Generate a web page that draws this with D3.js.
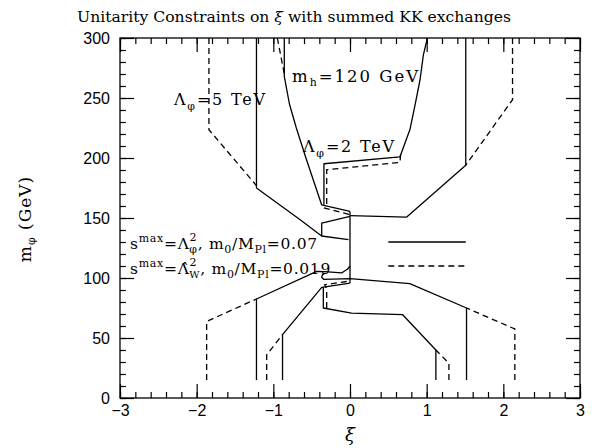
<!DOCTYPE html>
<html>
<head>
<meta charset="utf-8">
<script src="https://cdn.jsdelivr.net/npm/d3@7"></script>
<style>
body { margin: 0; background: #fff; }
svg { display: block; }
.tick text { font-family: "Liberation Sans", Arial, sans-serif; font-size: 16px; fill: #000; }
.lbl { font-family: "DejaVu Serif", serif; fill: #000; }
</style>
</head>
<body>
<div id="chart"></div>
<script>
// curves as [xi, m_phi] points
// solid: s^max = Lambda_phi^2, m0/MPl = 0.07 ; dashed: s^max = hatLambda_W^2, m0/MPl = 0.019
var lam5UpperLeft = [[-1.22, 300], [-1.22, 175], [-0.65, 148.6], [-0.37, 135], [-0.02, 132]];
var lam5UpperRight = [[1.51, 300], [1.51, 194], [0.74, 150.8], [0, 152]];
var lam5LowerLeft = [[-1.22, 15], [-1.22, 82.5], [-0.435, 105.5], [-0.33, 105.3], [-0.11, 104.2], [-0.03, 107.5], [0, 110]];
var lam5LowerRight = [[1.52, 15], [1.52, 75], [0.78, 95.3], [0, 99.4], [-0.34, 98.8], [-0.37, 100.6], [-0.36, 102.6], [-0.33, 104]];
var lam2UpperLeft = [[-0.857, 300], [-0.857, 268], [-0.79, 245], [-0.7, 225], [-0.58, 201], [-0.47, 180], [-0.37, 161], [0, 155.5]];
var lam2UpperRight = [[1.01, 300], [0.957, 286], [0.913, 265], [0.848, 244], [0.783, 224], [0.652, 201], [-0.34, 195.2], [-0.34, 161]];
var lam2LowerLeft = [[-0.88, 15], [-0.88, 52.8], [-0.369, 92.2], [0, 95.8]];
var lam2LowerRight = [[1.12, 15], [1.12, 40], [0.687, 69.4], [0.02, 70.8], [-0.348, 75], [-0.348, 92.5]];
var centreKink = [[-0.369, 134.7], [-0.369, 145.8], [0, 151.3]];
var centreLine = [[0, 155.5], [0, 95.8]];

var lam5UpperLeftDash = [[-1.84, 300], [-1.84, 223.6], [-1.22, 177]];
var lam5UpperRightDash = [[2.12, 300], [2.12, 248.6], [1.51, 194]];
var lam5LowerLeftDash = [[-1.87, 15], [-1.87, 63.8], [-1.22, 82.5]];
var lam5LowerRightDash = [[2.15, 15], [2.15, 57.5], [1.52, 75]];
var lam2UpperLeftDash = [[-0.948, 300], [-0.857, 270]];
var lam2UpperRightDash = [[0.66, 203], [0.652, 196.3], [-0.304, 190.25], [-0.304, 160], [-0.33, 158.3], [0, 152.75]];
var lam2LowerLeftDash = [[-1.087, 15], [-1.087, 36], [-0.88, 52.8]];
var lam2LowerRightDash = [[1.29, 15], [1.29, 29], [1.12, 40]];
var lam2LowerCentreDash = [[-0.304, 75], [-0.304, 91], [-0.33, 94.4], [0, 97.5]];

var solidCurves = [lam5UpperLeft, lam5UpperRight, lam5LowerLeft, lam5LowerRight,
    lam2UpperLeft, lam2UpperRight, lam2LowerLeft, lam2LowerRight, centreKink, centreLine];
var dashedCurves = [lam5UpperLeftDash, lam5UpperRightDash, lam5LowerLeftDash, lam5LowerRightDash,
    lam2UpperLeftDash, lam2UpperRightDash, lam2LowerLeftDash, lam2LowerRightDash, lam2LowerCentreDash];

var xTicks = [-3, -2, -1, 0, 1, 2, 3];
var yTicks = [0, 50, 100, 150, 200, 250, 300];

var width = 612, height = 448;
var x = d3.scaleLinear().domain([-3, 3]).range([120, 580]);
var y = d3.scaleLinear().domain([0, 300]).range([398, 38]);

var svg = d3.select("#chart").append("svg")
    .attr("width", width)
    .attr("height", height);

// minor ticks every 0.2 / 10, major at labels
var xMinor = d3.range(-3, 3.001, 0.2).map(function (d) { return +d.toFixed(1); });
var yMinor = d3.range(0, 301, 10);
var fmt = d3.format("d");

function addAxis(axis, tx, ty) {
    var g = svg.append("g").attr("transform", "translate(" + tx + "," + ty + ")").call(axis);
    g.select(".domain").remove();
    g.selectAll(".tick line").attr("stroke", "#000").attr("stroke-width", 1.2);
    return g;
}

addAxis(d3.axisBottom(x).tickValues(xTicks).tickSizeInner(-14).tickSizeOuter(0).tickPadding(7).tickFormat(fmt), 0, y(0));
addAxis(d3.axisBottom(x).tickValues(xMinor).tickSizeInner(-6).tickSizeOuter(0).tickFormat(""), 0, y(0));
addAxis(d3.axisTop(x).tickValues(xTicks).tickSizeInner(-14).tickSizeOuter(0).tickFormat(""), 0, y(300));
addAxis(d3.axisTop(x).tickValues(xMinor).tickSizeInner(-6).tickSizeOuter(0).tickFormat(""), 0, y(300));
addAxis(d3.axisLeft(y).tickValues(yTicks).tickSizeInner(-14).tickSizeOuter(0).tickPadding(10).tickFormat(fmt), x(-3), 0);
addAxis(d3.axisLeft(y).tickValues(yMinor).tickSizeInner(-6).tickSizeOuter(0).tickFormat(""), x(-3), 0);
addAxis(d3.axisRight(y).tickValues(yTicks).tickSizeInner(-14).tickSizeOuter(0).tickFormat(""), x(3), 0);
addAxis(d3.axisRight(y).tickValues(yMinor).tickSizeInner(-6).tickSizeOuter(0).tickFormat(""), x(3), 0);

svg.append("rect")
    .attr("x", x(-3)).attr("y", y(300))
    .attr("width", x(3) - x(-3)).attr("height", y(0) - y(300))
    .attr("fill", "none").attr("stroke", "#000").attr("stroke-width", 1.3);

var line = d3.line()
    .x(function (d) { return x(d[0]); })
    .y(function (d) { return y(d[1]); });

svg.selectAll(".solid").data(solidCurves).enter().append("path")
    .attr("class", "solid")
    .attr("d", line)
    .attr("fill", "none").attr("stroke", "#000").attr("stroke-width", 1.3)
    .attr("stroke-linejoin", "round");

svg.selectAll(".dash").data(dashedCurves).enter().append("path")
    .attr("class", "dash")
    .attr("d", line)
    .attr("fill", "none").attr("stroke", "#000").attr("stroke-width", 1.3)
    .attr("stroke-dasharray", "6,4");

// legend lines
svg.append("line").attr("x1", x(0.5)).attr("x2", x(1.51)).attr("y1", y(130)).attr("y2", y(130))
    .attr("stroke", "#000").attr("stroke-width", 1.3);
svg.append("line").attr("x1", x(0.5)).attr("x2", x(1.51)).attr("y1", y(110)).attr("y2", y(110))
    .attr("stroke", "#000").attr("stroke-width", 1.3).attr("stroke-dasharray", "6,4");

// text with sub/superscripts: parts = [text, shift, size, dx, italic]
function richText(px, py, size, spacing, parts, anchor) {
    var t = svg.append("text").attr("class", "lbl").attr("x", px).attr("y", py)
        .attr("font-size", size).attr("letter-spacing", spacing)
        .attr("text-anchor", anchor || "start");
    var cur = 0;
    parts.forEach(function (p) {
        var shift = p[1] || 0;
        var s = t.append("tspan").text(p[0]).attr("dy", shift - cur);
        if (p[2]) s.attr("font-size", p[2]);
        if (p[3]) s.attr("dx", p[3]);
        if (p[4]) s.attr("font-style", "italic");
        cur = shift;
    });
    return t;
}

richText(294, 22, 15.6, 0, [["Unitarity Constraints on "], ["ξ", 0, null, 0, true], [" with summed KK exchanges"]], "middle");

richText(174, 105, 16, 1.8, [["Λ"], ["φ", 5, 11], ["=5 TeV", 0]]);
richText(303, 152, 16, 1.8, [["Λ"], ["φ", 5, 11], ["=2 TeV", 0]]);
richText(292, 82, 16.5, 2, [["m"], ["h", 4, 11], ["=120 GeV", 0]]);

richText(130, 249, 15.5, 0.7, [["s"], ["max", -7, 11], ["=Λ", 0], ["2", -8, 11], ["φ", 4, 11, -8], [", m", 0], ["0", 4, 11], ["/M", 0], ["Pl", 4, 11], ["=0.07", 0]]);
richText(130, 274, 15.5, 0.7, [["s"], ["max", -7, 11], ["=Λ\u0302", 0], ["2", -8, 11], ["W", 4, 10, -8], [", m", 0], ["0", 4, 11], ["/M", 0], ["Pl", 4, 11], ["=0.019", 0]]);

richText(350, 441, 18, 0, [["ξ", 0, null, 0, true]], "middle");

var yl = richText(0, 0, 17, 1, [["m"], ["φ", 4, 11], [" (GeV)", 0]], "middle");
yl.attr("transform", "translate(31,219) rotate(-90)");
</script>
</body>
</html>
